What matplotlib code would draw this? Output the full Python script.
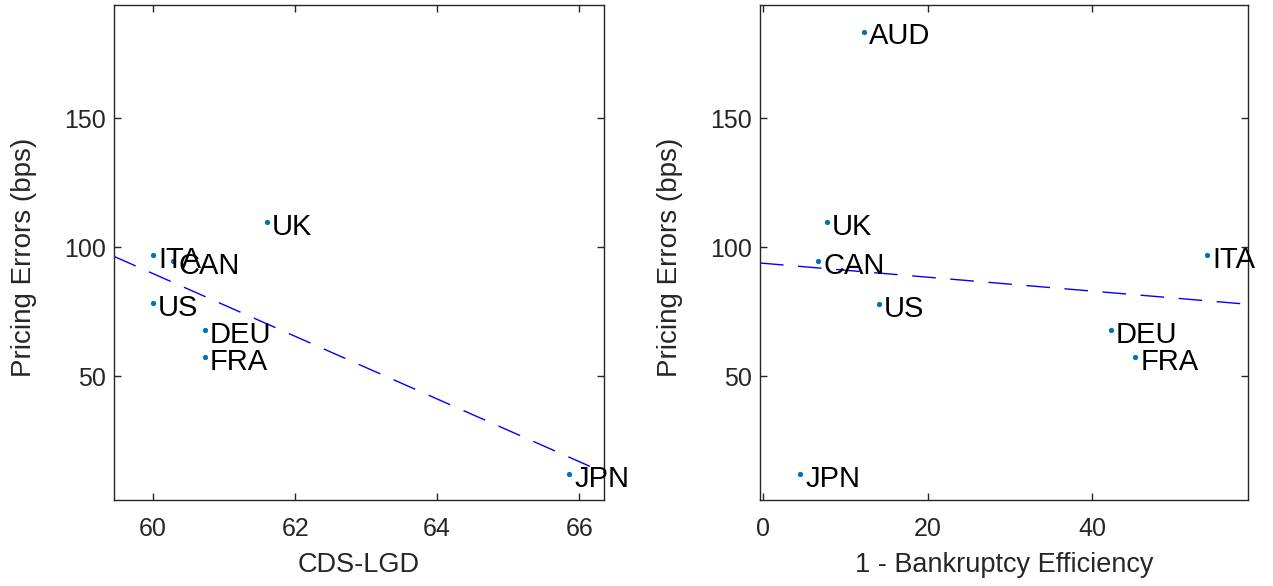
import numpy as np
import matplotlib
matplotlib.use("Agg")
import matplotlib.pyplot as plt

plt.rcParams['font.family'] = ['Liberation Sans', 'DejaVu Sans']

# ----------------------------------------------------------------
# data
# ----------------------------------------------------------------
left_names = ['ITA', 'CAN', 'UK', 'US', 'DEU', 'FRA', 'JPN']
left_lgd = [60.0, 60.28, 61.6, 60.0, 60.73, 60.73, 65.86]
left_err = [96.9, 94.6, 109.7, 78.3, 67.8, 57.4, 12.0]

right_names = ['AUD', 'UK', 'CAN', 'US', 'DEU', 'FRA', 'ITA', 'JPN']
right_ineff = [12.2, 7.7, 6.7, 14.1, 42.3, 45.3, 54.0, 4.5]
right_err = [183.7, 109.7, 94.6, 78.0, 67.8, 57.4, 96.9, 12.0]

left_xlim = (59.45, 66.35)
right_xlim = (-0.4, 59.0)
ylim = (2, 194)

dot_col = '#0072BD'
tick_col = '#262626'


def panel(ax, x, y, names, xlim, xticks, xlabel):
    x = np.array(x)
    y = np.array(y)
    # least squares fit line over the whole x range
    b, a = np.polyfit(x, y, 1)
    xx = np.array(xlim)
    ax.plot(xx, a + b * xx, color='blue', lw=1.0, dashes=(17, 10.5))
    ax.plot(x, y, 'o', color=dot_col, ms=3.8, mew=0)
    for xi, yi, nm in zip(x, y, names):
        ax.annotate(nm, (xi, yi), xytext=(3.6, -3.5), textcoords='offset points',
                    ha='left', va='center', fontsize=21, color='black',
                    annotation_clip=False)
    ax.set_xlim(xlim)
    ax.set_ylim(ylim)
    ax.set_xticks(xticks)
    ax.set_yticks([50, 100, 150])
    ax.set_xlabel(xlabel, fontsize=19.5, color=tick_col, labelpad=8.5)
    ax.set_ylabel('Pricing Errors (bps)', fontsize=20, color=tick_col)
    ax.yaxis.set_label_coords(-0.157, 0.49)
    ax.tick_params(direction='in', length=5, width=1.0, colors=tick_col,
                   labelsize=18, top=True, right=True)
    ax.tick_params(axis='x', pad=12)
    ax.tick_params(axis='y', pad=6)
    for s in ax.spines.values():
        s.set_color(tick_col)
        s.set_linewidth(1.0)


fig = plt.figure(figsize=(12.73, 5.86), dpi=100)
ax1 = fig.add_axes([0.0896, 0.1468, 0.3849, 0.8447])
ax2 = fig.add_axes([0.597, 0.1468, 0.3834, 0.8447])

panel(ax1, left_lgd, left_err, left_names, left_xlim, [60, 62, 64, 66], 'CDS-LGD')
panel(ax2, right_ineff, right_err, right_names, right_xlim, [0, 20, 40],
      '1 - Bankruptcy Efficiency')

fig.savefig('out.png', dpi=100)
